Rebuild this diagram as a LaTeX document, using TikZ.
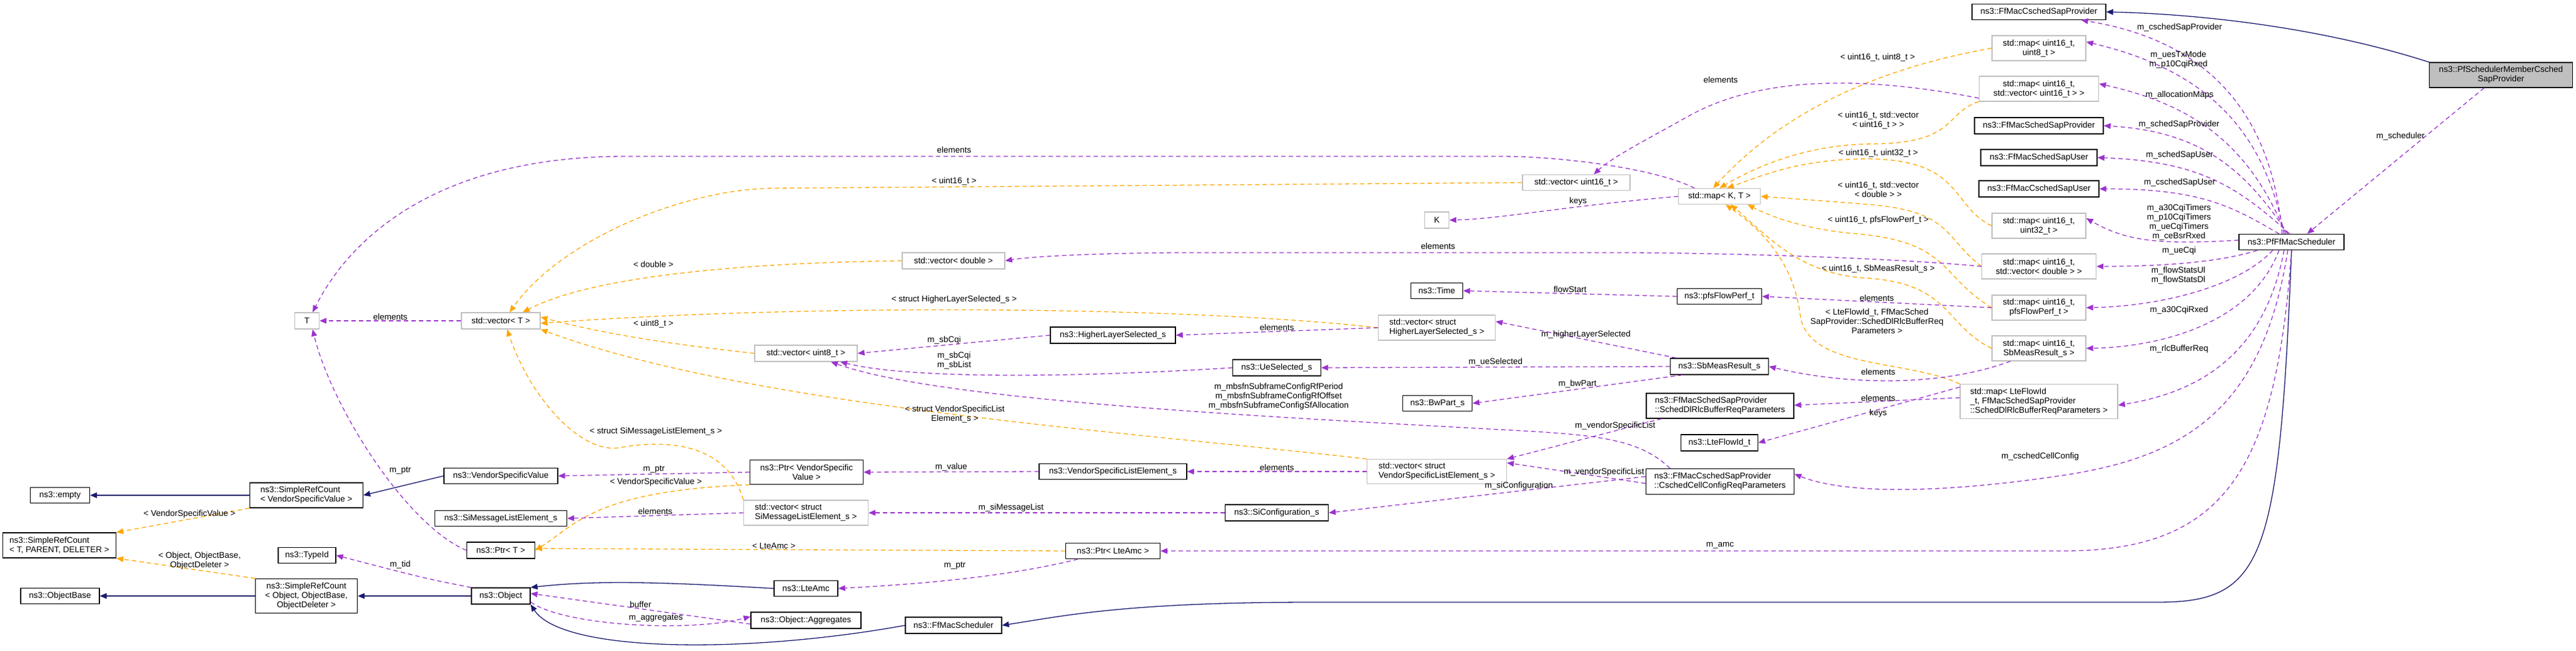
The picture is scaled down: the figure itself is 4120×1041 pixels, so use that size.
\documentclass[tikz,border=0pt]{standalone}
\usepackage{fontspec}
\setmainfont{Liberation Sans}
\usetikzlibrary{arrows.meta}
\definecolor{navy}{HTML}{191970}
\definecolor{orng}{HTML}{FFA500}
\definecolor{purp}{HTML}{9A32CD}
\definecolor{gbord}{HTML}{BFBFBF}
\tikzset{
  every node/.style={font=\fontsize{13.5}{15}\selectfont},
  bx/.style={draw=black,line width=1.3pt,fill=white,inner sep=1pt,align=center},
  gx/.style={draw=gbord,line width=1.3pt,fill=white,inner sep=1pt,align=center},
  tip/.style={-{Triangle[length=11pt,width=9pt]}},
  inh/.style={tip,draw=navy,line width=1.3pt},
  tmpl/.style={tip,draw=orng,line width=1.3pt,dash pattern=on 7pt off 5pt},
  mem/.style={tip,draw=purp,line width=1.3pt,dash pattern=on 7pt off 5pt},
  lbl/.style={inner sep=1pt,align=center}
}
\begin{document}
\begin{tikzpicture}[x=1pt,y=-1pt]
\useasboundingbox (0,0) rectangle (4120,1041);
% nodes
\node[bx,minimum width=95,minimum height=25] (empty) at (96,792) {ns3::empty};
\node[bx,minimum width=181,minimum height=40,align=left] (srcV) at (490,792) {ns3::SimpleRefCount\\< VendorSpecificValue >};
\node[bx,minimum width=181,minimum height=40,align=left] (srcT) at (95,872) {ns3::SimpleRefCount\\< T, PARENT, DELETER >};
\node[bx,minimum width=92,minimum height=25] (typeid) at (491,888) {ns3::TypeId};
\node[bx,minimum width=163,minimum height=55] (srcO) at (490,953) {ns3::SimpleRefCount\\< Object, ObjectBase,\\ObjectDeleter >};
\node[bx,minimum width=126,minimum height=25] (objbase) at (96,953) {ns3::ObjectBase};
\node[bx,minimum width=182,minimum height=25] (vsv) at (801,761) {ns3::VendorSpecificValue};
\node[bx,minimum width=211,minimum height=25] (simle) at (801,829) {ns3::SiMessageListElement\_s};
\node[bx,minimum width=109,minimum height=26] (ptrT) at (801,880) {ns3::Ptr< T >};
\node[bx,minimum width=94,minimum height=26] (object) at (801,953) {ns3::Object};
\node[gx,minimum width=39,minimum height=26] (T) at (491,513) {T};
\node[gx,minimum width=126,minimum height=26] (vecT) at (801,513) {std::vector< T >};
\node[bx,minimum width=181,minimum height=39] (ptrV) at (1290,755) {ns3::Ptr< VendorSpecific\\Value >};
\node[gx,minimum width=199,minimum height=40,align=left] (vecSi) at (1289,820) {std::vector< struct\\ SiMessageListElement\_s >};
\node[bx,minimum width=102,minimum height=25] (lteamc) at (1289,941) {ns3::LteAmc};
\node[bx,minimum width=176,minimum height=26] (aggr) at (1289,992) {ns3::Object::Aggregates};
\node[gx,minimum width=164,minimum height=26] (vecD) at (1525,417) {std::vector< double >};
\node[gx,minimum width=164,minimum height=26] (vecU8) at (1289,565) {std::vector< uint8\_t >};
\node[bx,minimum width=200,minimum height=26] (hls) at (1780,536) {ns3::HigherLayerSelected\_s};
\node[bx,minimum width=236,minimum height=25] (vsle) at (1780,754) {ns3::VendorSpecificListElement\_s};
\node[bx,minimum width=165,minimum height=26] (siconf) at (2042,820) {ns3::SiConfiguration\_s};
\node[bx,minimum width=151,minimum height=25] (ptrAmc) at (1780,881) {ns3::Ptr< LteAmc >};
\node[bx,minimum width=154,minimum height=26] (ffms) at (1525,1000) {ns3::FfMacScheduler};
\node[bx,minimum width=141,minimum height=26] (ues) at (2042,588) {ns3::UeSelected\_s};
\node[bx,minimum width=111,minimum height=25] (bwp) at (2299,645) {ns3::BwPart\_s};
\node[gx,minimum width=223,minimum height=39,align=left] (vecVsle) at (2298,754) {std::vector< struct\\ VendorSpecificListElement\_s >};
\node[gx,minimum width=39,minimum height=26] (K) at (2298,352) {K};
\node[gx,minimum width=172,minimum height=25] (vecU16) at (2521,292) {std::vector< uint16\_t >};
\node[bx,minimum width=83,minimum height=25] (time) at (2298,465) {ns3::Time};
\node[gx,minimum width=187,minimum height=40,align=left] (vecHls) at (2298,524) {std::vector< struct\\ HigherLayerSelected\_s >};
\node[gx,minimum width=131,minimum height=25] (mapKT) at (2750,314) {std::map< K, T >};
\node[bx,minimum width=135,minimum height=25] (pfs) at (2750,474) {ns3::pfsFlowPerf\_t};
\node[bx,minimum width=157,minimum height=26] (sbm) at (2750,586) {ns3::SbMeasResult\_s};
\node[bx,minimum width=236,minimum height=40,align=left] (dlrlc) at (2751,649) {ns3::FfMacSchedSapProvider\\::SchedDlRlcBufferReqParameters};
\node[bx,minimum width=123,minimum height=26] (lfid) at (2750,708) {ns3::LteFlowId\_t};
\node[bx,minimum width=237,minimum height=41,align=left] (ccfg) at (2751,770) {ns3::FfMacCschedSapProvider\\::CschedCellConfigReqParameters};
\node[bx,minimum width=214,minimum height=25] (cprov) at (3261,19) {ns3::FfMacCschedSapProvider};
\node[gx,minimum width=150,minimum height=40] (m8) at (3261,77) {std::map< uint16\_t,\\uint8\_t >};
\node[gx,minimum width=191,minimum height=40] (mv16) at (3261,142) {std::map< uint16\_t,\\ std::vector< uint16\_t > >};
\node[bx,minimum width=206,minimum height=26] (sprov) at (3261,201) {ns3::FfMacSchedSapProvider};
\node[bx,minimum width=186,minimum height=26] (suser) at (3261,252) {ns3::FfMacSchedSapUser};
\node[bx,minimum width=192,minimum height=26] (cuser) at (3261,302) {ns3::FfMacCschedSapUser};
\node[gx,minimum width=150,minimum height=40] (m32) at (3261,361) {std::map< uint16\_t,\\uint32\_t >};
\node[gx,minimum width=183,minimum height=40] (mvd) at (3261,426) {std::map< uint16\_t,\\ std::vector< double > >};
\node[gx,minimum width=150,minimum height=40] (mpfs) at (3261,492) {std::map< uint16\_t,\\pfsFlowPerf\_t >};
\node[gx,minimum width=150,minimum height=40] (msbm) at (3261,557) {std::map< uint16\_t,\\SbMeasResult\_s >};
\node[gx,minimum width=252,minimum height=55,align=left] (mlfid) at (3261,642) {std::map< LteFlowId\\\_t, FfMacSchedSapProvider\\::SchedDlRlcBufferReqParameters >};
\node[bx,minimum width=168,minimum height=25] (pf) at (3665,387) {ns3::PfFfMacScheduler};
\node[bx,fill=gbord,minimum width=229,minimum height=40] (mem) at (4000,120) {ns3::PfSchedulerMemberCsched\\SapProvider};

% inheritance
\draw[inh] (srcV.west) -- (empty.east);
\draw[inh] (vsv.west) -- (srcV.east);
\draw[inh] (srcO.west) -- (objbase.east);
\draw[inh] (object.west) -- (srcO.east);
\draw[inh] (lteamc.west) .. controls (1050,930) and (950,928) .. (object.north east);
\draw[inh] (ffms.west) .. controls (1200,1045) and (900,1045) .. (object.south east);
\draw[inh] (pf.south) .. controls (3645,900) and (3620,963) .. (3450,963) -- (2100,963) .. controls (1800,963) and (1700,985) .. (ffms.east);
\draw[inh] (mem.north west) .. controls (3700,40) and (3500,22) .. (cprov.east);

% templates
\draw[tmpl] (srcV.south west) -- node[lbl,above,pos=0.45]{< VendorSpecificValue >} (srcT.north east);
\draw[tmpl] (srcO.north west) -- node[lbl,above,pos=0.4]{< Object, ObjectBase,\\ObjectDeleter >} (srcT.south east);
\draw[tmpl] (ptrV.south west) .. controls (950,785) and (920,840) .. (ptrT.east);
\node[lbl] at (1049,771) {< VendorSpecificValue >};
\draw[tmpl] (ptrAmc.west) -- node[lbl,above,pos=0.55]{< LteAmc >} ([yshift=3]ptrT.east);
\draw[tmpl] (vecSi.north west) .. controls (1160,700) and (1050,705) .. (990,716) .. controls (930,725) and (850,640) .. ([xshift=10]vecT.south);
\node[lbl] at (1049,690) {< struct SiMessageListElement\_s >};
\draw[tmpl] (vecVsle.north west) .. controls (1800,690) and (1200,650) .. (vecT.south east);
\node[lbl] at (1527,662) {< struct VendorSpecificList\\Element\_s >};
\draw[tmpl] (vecU8.west) .. controls (1050,548) and (950,530) .. ([yshift=6]vecT.east);
\node[lbl] at (1045,518) {< uint8\_t >};
\draw[tmpl] (vecHls.west) .. controls (1900,490) and (1300,485) .. ([yshift=-4]vecT.east);
\node[lbl] at (1526,479) {< struct HigherLayerSelected\_s >};
\draw[tmpl] (vecD.west) .. controls (1200,420) and (950,440) .. ([xshift=35]vecT.north);
\node[lbl] at (1045,423) {< double >};
\draw[tmpl] (vecU16.west) -- (1240,301) .. controls (1100,301) and (900,380) .. ([xshift=14]vecT.north);
\node[lbl] at (1526,290) {< uint16\_t >};

\draw[tmpl] (m8.west) .. controls (3000,110) and (2850,180) .. ([xshift=-10]mapKT.north);
\node[lbl] at (3003,92) {< uint16\_t, uint8\_t >};
\draw[tmpl] (mv16.south west) .. controls (3110,180) and (3130,228) .. (3000,230) .. controls (2900,230) and (2820,260) .. ([xshift=0]mapKT.north);
\node[lbl] at (3004,192) {< uint16\_t, std::vector\\< uint16\_t > >};
\draw[tmpl] (m32.west) .. controls (3120,330) and (3140,256) .. (2990,254) .. controls (2880,254) and (2820,280) .. ([xshift=12]mapKT.north);
\node[lbl] at (3004,245) {< uint16\_t, uint32\_t >};
\draw[tmpl] (mvd.west) .. controls (3110,380) and (3120,340) .. (3000,328) .. controls (2930,322) and (2870,318) .. (mapKT.east);
\node[lbl] at (3004,303) {< uint16\_t, std::vector\\< double > >};
\draw[tmpl] (mpfs.west) .. controls (3100,440) and (3120,385) .. (2960,373) .. controls (2880,365) and (2830,345) .. ([xshift=45]mapKT.south);
\node[lbl] at (3004,352) {< uint16\_t, pfsFlowPerf\_t >};
\draw[tmpl] (msbm.west) .. controls (3110,520) and (3120,455) .. (2990,445) .. controls (2880,440) and (2830,380) .. ([xshift=18]mapKT.south);
\node[lbl] at (3004,430) {< uint16\_t, SbMeasResult\_s >};
\draw[tmpl] (mlfid.north west) .. controls (3050,575) and (2900,590) .. (2880,510) .. controls (2870,420) and (2820,370) .. ([xshift=10]mapKT.south);
\node[lbl] at (3002,514) {< LteFlowId\_t, FfMacSched\\SapProvider::SchedDlRlcBufferReq\\Parameters >};

% members
\draw[mem] (ptrT.west) .. controls (650,840) and (530,650) .. ([xshift=9]T.south);
\node[lbl] at (640,753) {m\_ptr};
\draw[mem] (vecT.west) -- node[lbl,above]{elements} (T.east);
\draw[mem] ([xshift=-40]mapKT.north) .. controls (2650,270) and (2500,250) .. (2400,250) -- (1000,250) .. controls (700,250) and (560,380) .. ([xshift=9]T.north);
\node[lbl] at (1526,240) {elements};
\draw[mem] (mapKT.west) .. controls (2500,330) and (2400,350) .. (K.east);
\node[lbl] at (2524,322) {keys};
\draw[mem] (object.north west) .. controls (680,925) .. (typeid.east);
\node[lbl] at (640,903) {m\_tid};
\draw[mem] (ptrV.west) -- node[lbl,above,pos=0.5]{m\_ptr} (vsv.east);
\draw[mem] (vecSi.west) -- node[lbl,above]{elements} (simle.east);
\draw[mem] ([xshift=20]ptrAmc.south west) .. controls (1600,925) and (1450,935) .. (lteamc.east);
\node[lbl] at (1527,905) {m\_ptr};
\draw[mem] ([yshift=4]object.south east) .. controls (900,1000) and (1100,1012) .. ([yshift=6]aggr.west);
\node[lbl] at (1049,989) {m\_aggregates};
\draw[mem] ([yshift=-6]aggr.west) -- node[lbl,above]{buffer} ([yshift=4]object.east);
\draw[mem] (vecHls.west) -- node[lbl,above]{elements} (hls.east);
\draw[mem] (hls.west) -- node[lbl,above,pos=0.55]{m\_sbCqi} (vecU8.east);
\draw[mem] (ues.west) .. controls (1700,605) and (1450,605) .. ([xshift=55]vecU8.south);
\node[lbl] at (1526,576) {m\_sbCqi\\m\_sbList};
\draw[mem] ([xshift=-80]ccfg.north) .. controls (2620,700) and (2550,695) .. (2400,687) .. controls (2000,665) and (1500,640) .. ([xshift=40]vecU8.south);
\node[lbl] at (2045,634) {m\_mbsfnSubframeConfigRfPeriod\\m\_mbsfnSubframeConfigRfOffset\\m\_mbsfnSubframeConfigSfAllocation};
\draw[mem] ([xshift=10]sbm.north west) -- node[lbl,above,pos=0.5]{m\_higherLayerSelected} ([yshift=10]vecHls.east);
\draw[mem] (sbm.west) -- node[lbl,above]{m\_ueSelected} (ues.east);
\draw[mem] ([xshift=20]sbm.south west) -- node[lbl,above,pos=0.5]{m\_bwPart} (bwp.east);
\draw[mem] (vsle.west) -- node[lbl,above]{m\_value} (ptrV.east);
\draw[mem] (vecVsle.west) -- node[lbl,above]{elements} (vsle.east);
\draw[mem] (siconf.west) -- node[lbl,above,pos=0.6]{m\_siMessageList} (vecSi.east);
\draw[mem] ([yshift=8]ccfg.west) -- node[lbl,above,pos=0.4]{m\_siConfiguration} (siconf.east);
\draw[mem] ([yshift=-3]ccfg.west) -- node[lbl,above,pos=0.3]{m\_vendorSpecificList} ([yshift=14]vecVsle.east);
\draw[mem] ([xshift=25]dlrlc.south west) -- node[lbl,above,pos=0.3]{m\_vendorSpecificList} (vecVsle.north east);
\draw[mem] (pfs.west) -- node[lbl,above]{flowStart} (time.east);
\draw[mem] (mpfs.west) -- node[lbl,above]{elements} (pfs.east);
\draw[mem] ([xshift=30]msbm.south west) .. controls (3100,620) and (2950,615) .. (sbm.east);
\node[lbl] at (3004,595) {elements};
\draw[mem] ([yshift=6]mlfid.west) -- ([yshift=1]dlrlc.east);
\node[lbl] at (3004,637) {elements};
\draw[mem] ([yshift=23]mlfid.west) -- (lfid.east);
\node[lbl] at (3004,661) {keys};
\draw[mem] ([yshift=-15]mv16.west) .. controls (2950,115) and (2800,130) .. (2700,186) .. controls (2640,220) and (2580,250) .. ([xshift=28]vecU16.north);
\node[lbl] at (2752,128) {elements};
\draw[mem] (mvd.west) .. controls (3000,410) and (2700,404) .. (2600,404) -- (1880,404) .. controls (1750,405) and (1650,410) .. (vecD.east);
\node[lbl] at (2300,394) {elements};

% from PfFfMacScheduler
\draw[mem] ([xshift=-15]pf.north) .. controls (3630,150) and (3500,60) .. ([xshift=-40]cprov.south east);
\node[lbl] at (3486,44) {m\_cschedSapProvider};
\draw[mem] ([xshift=-12]pf.north) .. controls (3620,200) and (3520,110) .. ([yshift=10]m8.east);
\node[lbl] at (3484,96) {m\_uesTxMode\\m\_p10CqiRxed};
\draw[mem] ([xshift=-9]pf.north) .. controls (3600,240) and (3520,170) .. ([yshift=8]mv16.east);
\node[lbl] at (3486,152) {m\_allocationMaps};
\draw[mem] ([xshift=-6]pf.north) .. controls (3590,270) and (3520,210) .. (sprov.east);
\node[lbl] at (3485,199) {m\_schedSapProvider};
\draw[mem] ([xshift=-3]pf.north) .. controls (3580,300) and (3520,258) .. (suser.east);
\node[lbl] at (3486,248) {m\_schedSapUser};
\draw[mem] ([xshift=-20]pf.north) .. controls (3570,330) and (3520,302) .. (cuser.east);
\node[lbl] at (3486,292) {m\_cschedSapUser};
\draw[mem] ([yshift=3]pf.west) .. controls (3450,392) and (3400,385) .. ([yshift=12]m32.east);
\node[lbl] at (3485,355) {m\_a30CqiTimers\\m\_p10CqiTimers\\m\_ueCqiTimers\\m\_ceBsrRxed};
\draw[mem] ([xshift=30]pf.south west) .. controls (3550,420) and (3450,426) .. (mvd.east);
\node[lbl] at (3485,401) {m\_ueCqi};
\draw[mem] ([xshift=-30]pf.south) .. controls (3580,460) and (3450,490) .. (mpfs.east);
\node[lbl] at (3484,440) {m\_flowStatsUl\\m\_flowStatsDl};
\draw[mem] ([xshift=-20]pf.south) .. controls (3600,520) and (3450,555) .. (msbm.east);
\node[lbl] at (3485,496) {m\_a30CqiRxed};
\draw[mem] ([xshift=-12]pf.south) .. controls (3620,580) and (3500,630) .. ([yshift=-6]mlfid.east);
\node[lbl] at (3485,558) {m\_rlcBufferReq};
\draw[mem] ([xshift=-6]pf.south) .. controls (3620,650) and (3500,730) .. (3300,760) .. controls (3100,790) and (2950,790) .. ([yshift=12]ccfg.east);
\node[lbl] at (3263,730) {m\_cschedCellConfig};
\draw[mem] ([xshift=0]pf.south) .. controls (3640,750) and (3560,881) .. (3300,881) -- (ptrAmc.east);
\node[lbl] at (2751,872) {m\_amc};
\draw[mem] ([xshift=-27]mem.south) -- node[lbl,left,pos=0.33]{m\_scheduler} ([xshift=25]pf.north);
\end{tikzpicture}
\end{document}
